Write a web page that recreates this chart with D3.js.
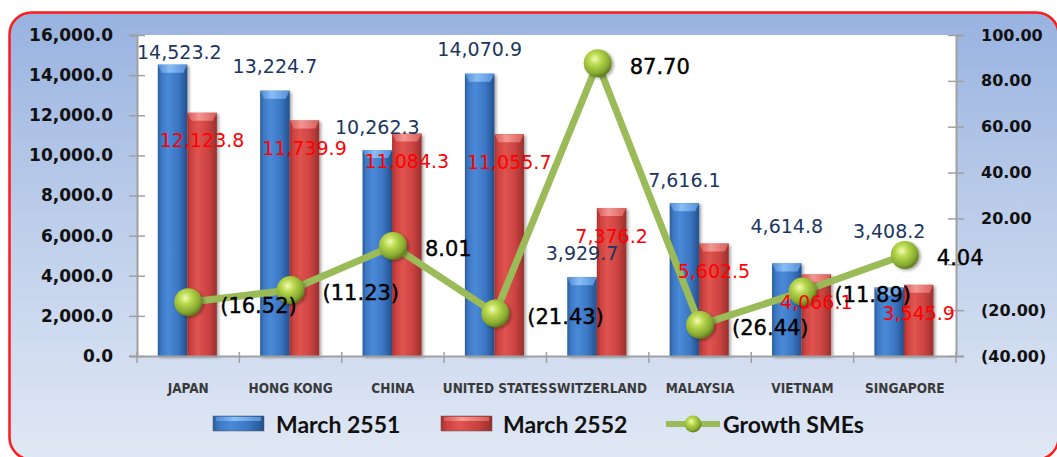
<!DOCTYPE html>
<html><head><meta charset="utf-8">
<script src="https://cdn.jsdelivr.net/npm/d3@7/dist/d3.min.js"></script>
<style>html,body{margin:0;padding:0;background:#fff;overflow:hidden}</style>
</head><body><svg id="c" width="1057" height="457"></svg>
<script>
const categories = ["JAPAN","HONG KONG","CHINA","UNITED STATES","SWITZERLAND","MALAYSIA","VIETNAM","SINGAPORE"];
const march2551 = [14523.2, 13224.7, 10262.3, 14070.9, 3929.7, 7616.1, 4614.8, 3408.2];
const march2552 = [12123.8, 11739.9, 11084.3, 11055.7, 7376.2, 5602.5, 4066.1, 3545.9];
const growthSMEs = [-16.52, -11.23, 8.01, -21.43, 87.70, -26.44, -11.89, 4.04];
const seriesNames = ["March 2551", "March 2552", "Growth SMEs"];
const leftTicks = [0, 2000, 4000, 6000, 8000, 10000, 12000, 14000, 16000];
const rightTicks = [-40, -20, 0, 20, 40, 60, 80, 100];

// layout (not data)
const plot = {l:137, r:956, t:35, b:356};
const blueLift = [12, 24, 23, 24, 24, 23, 37, 56];

const svg = d3.select("#c");
const defs = svg.append("defs");

// background gradient
const bg = defs.append("linearGradient").attr("id","bg").attr("x1",0).attr("y1",0).attr("x2",0).attr("y2",1);
bg.append("stop").attr("offset","0%").attr("stop-color","#98b2e0");
bg.append("stop").attr("offset","45%").attr("stop-color","#bccdea");
bg.append("stop").attr("offset","100%").attr("stop-color","#e1e8f5");

function barGrad(id, stops){
  const g = defs.append("linearGradient").attr("id",id).attr("x1",0).attr("y1",0).attr("x2",1).attr("y2",0);
  stops.forEach(s=>g.append("stop").attr("offset",s[0]).attr("stop-color",s[1]));
}
barGrad("gBlue", [["0%","#2c5c9c"],["12%","#3d78c4"],["35%","#4a8ad8"],["70%","#3b76c2"],["100%","#23508c"]]);
barGrad("gRed", [["0%","#a8302c"],["12%","#cc4240"],["35%","#e05450"],["70%","#cc4341"],["100%","#98302d"]]);
barGrad("gBlueTop", [["0%","#4f8ad6"],["40%","#8cc0f6"],["100%","#5590da"]]);
barGrad("gRedTop", [["0%","#d65a57"],["40%","#f59a96"],["100%","#d85f5b"]]);

const rg = defs.append("radialGradient").attr("id","gBall").attr("cx","40%").attr("cy","35%").attr("r","65%");
rg.append("stop").attr("offset","0%").attr("stop-color","#f2fbb8");
rg.append("stop").attr("offset","35%").attr("stop-color","#b8d84c");
rg.append("stop").attr("offset","80%").attr("stop-color","#86a830");
rg.append("stop").attr("offset","100%").attr("stop-color","#5f7d1c");

const sh = defs.append("filter").attr("id","shadow").attr("x","-20%").attr("y","-20%").attr("width","160%").attr("height","160%");
sh.append("feDropShadow").attr("dx",2).attr("dy",1.5).attr("stdDeviation",1.5).attr("flood-color","#000").attr("flood-opacity",0.35);

// frame
svg.append("rect").attr("x",9.5).attr("y",12.5).attr("width",1049).attr("height",447).attr("rx",22)
  .attr("fill","url(#bg)").attr("stroke","#ff1a1a").attr("stroke-width",2.5);

// plot area
svg.append("rect").attr("x",plot.l).attr("y",plot.t).attr("width",plot.r-plot.l).attr("height",plot.b-plot.t).attr("fill","#ffffff");

// scales
const x0 = d3.scaleBand().domain(categories).range([plot.l, plot.r]).padding(0);
const bw = x0.bandwidth();
const x1 = d3.scaleBand().domain(["a","b"]).range([bw*0.203, bw*0.78]).padding(0);
const yL = d3.scaleLinear().domain([0,16000]).range([plot.b, plot.t]);
const yR = d3.scaleLinear().domain([-40,100]).range([plot.b, plot.t]);

// bars
const series = [
  {key:"a", vals:march2551, fill:"url(#gBlue)", top:"url(#gBlueTop)"},
  {key:"b", vals:march2552, fill:"url(#gRed)", top:"url(#gRedTop)"}
];
series.forEach(s=>{
  const g = svg.append("g");
  categories.forEach((c,i)=>{
    const bx = x0(c)+x1(s.key), w = x1.bandwidth(), y = yL(s.vals[i]);
    g.append("rect").attr("x",bx).attr("y",y).attr("width",w).attr("height",plot.b-y)
      .attr("fill",s.fill).attr("filter","url(#shadow)");
    g.append("path").attr("d",`M${bx},${y} L${bx+w},${y} L${bx+w-4},${y+8} L${bx+4},${y+8} Z`)
      .attr("fill",s.top).attr("opacity",0.95);
  });
});

// left axis
const axL = svg.append("g").attr("transform",`translate(${plot.l},0)`)
  .call(d3.axisLeft(yL).tickValues(leftTicks).tickFormat(d3.format(",.1f")).tickSize(8).tickPadding(16));
axL.select(".domain").attr("stroke","#a0a0a0").attr("stroke-width",2);
axL.selectAll(".tick line").attr("x1",8).attr("stroke","#a0a0a0").attr("stroke-width",1.5);
axL.selectAll(".tick text").attr("font-family","DejaVu Sans").attr("font-weight","bold").attr("font-size",17).attr("fill","#111");

// right axis
const fmtR = v => v===0 ? "" : (v<0 ? "("+d3.format(".2f")(-v)+")" : d3.format(".2f")(v));
const axR = svg.append("g").attr("transform",`translate(${plot.r},0)`)
  .call(d3.axisRight(yR).tickValues(rightTicks).tickFormat(fmtR).tickSize(8).tickPadding(17));
axR.select(".domain").attr("stroke","#a0a0a0").attr("stroke-width",2);
axR.selectAll(".tick line").attr("x1",-8).attr("stroke","#a0a0a0").attr("stroke-width",1.5);
axR.selectAll(".tick text").attr("font-family","DejaVu Sans").attr("font-weight","bold").attr("font-size",16).attr("fill","#111");

// bottom axis
const axB = svg.append("g").attr("transform",`translate(0,${plot.b})`)
  .call(d3.axisBottom(x0).tickSize(0).tickPadding(0));
axB.select(".domain").attr("stroke","#a0a0a0").attr("stroke-width",2);
axB.selectAll(".tick text").attr("y",32).attr("dy","0.35em")
  .attr("font-family","'Liberation Sans Narrow', 'DejaVu Sans Condensed', 'Liberation Sans'").attr("font-weight","bold")
  .attr("font-size",13.5).attr("fill","#3a3a3a");
const bounds = categories.map(c=>x0(c)).concat([plot.r]);
axB.selectAll(".bnd").data(bounds).enter().append("line").attr("class","bnd")
  .attr("x1",d=>d).attr("x2",d=>d).attr("y1",-4).attr("y2",7).attr("stroke","#a0a0a0").attr("stroke-width",1.5);

// growth line
const px = c => x0(c)+bw/2;
const line = d3.line().x((d,i)=>px(categories[i])).y(d=>yR(d));
svg.append("path").datum(growthSMEs).attr("d",line).attr("fill","none")
  .attr("stroke","#9bbb59").attr("stroke-width",7).attr("stroke-linejoin","round");
svg.append("g").selectAll("circle").data(growthSMEs).enter().append("circle")
  .attr("cx",(d,i)=>px(categories[i])).attr("cy",d=>yR(d)).attr("r",14)
  .attr("fill","url(#gBall)").attr("filter","url(#shadow)");

// data labels blue
const fmt1 = d3.format(",.1f");
const lb = svg.append("g");
categories.forEach((c,i)=>{
  const cx = x0(c)+x1("a")+x1.bandwidth()/2;
  const t = lb.append("text").attr("x",cx).attr("y",yL(march2551[i])-blueLift[i]).attr("dy","0.35em")
    .attr("text-anchor","middle").attr("font-family","DejaVu Sans").attr("font-size",19).attr("fill","#1b365f")
    .text(fmt1(march2551[i]));
  const w = t.node().getComputedTextLength();
  if (cx - w/2 < plot.l) t.attr("x", plot.l + w/2);
});
categories.forEach((c,i)=>{
  const cx = x0(c)+x1("b")+x1.bandwidth()/2;
  lb.append("text").attr("x",cx).attr("y",yL(march2552[i])+28).attr("dy","0.35em")
    .attr("text-anchor","middle").attr("font-family","DejaVu Sans").attr("font-size",19).attr("fill","#ff0000")
    .text(fmt1(march2552[i]));
});
const fmtG = v => v<0 ? "("+d3.format(".2f")(-v)+")" : d3.format(".2f")(v);
categories.forEach((c,i)=>{
  lb.append("text").attr("x",px(c)+32).attr("y",yR(growthSMEs[i])+3).attr("dy","0.35em")
    .attr("font-family","DejaVu Sans").attr("font-size",21).attr("fill","#000")
    .attr("stroke","#000").attr("stroke-width",0.4)
    .text(fmtG(growthSMEs[i]));
});

// legend
const lg = svg.append("g");
const ly = 424;
[[213, "url(#gBlue)", "url(#gBlueTop)", 276, seriesNames[0]], [441, "url(#gRed)", "url(#gRedTop)", 503, seriesNames[1]]].forEach(d=>{
  lg.append("rect").attr("x",d[0]).attr("y",ly-8).attr("width",51).attr("height",15).attr("fill",d[1]).attr("stroke","#555").attr("stroke-width",0.5);
  lg.append("rect").attr("x",d[0]+3).attr("y",ly-7).attr("width",45).attr("height",4).attr("fill",d[2]);
  lg.append("text").attr("x",d[3]).attr("y",ly+9).attr("font-family","Lato").attr("font-weight","bold").attr("font-size",23).attr("fill","#111").text(d[4]);
});
lg.append("line").attr("x1",666).attr("x2",720).attr("y1",ly).attr("y2",ly).attr("stroke","#9bbb59").attr("stroke-width",6);
lg.append("circle").attr("cx",693).attr("cy",ly).attr("r",8.5).attr("fill","url(#gBall)");
lg.append("text").attr("x",723).attr("y",ly+9).attr("font-family","Lato").attr("font-weight","bold").attr("font-size",23).attr("fill","#111").text(seriesNames[2]);
</script></body></html>
